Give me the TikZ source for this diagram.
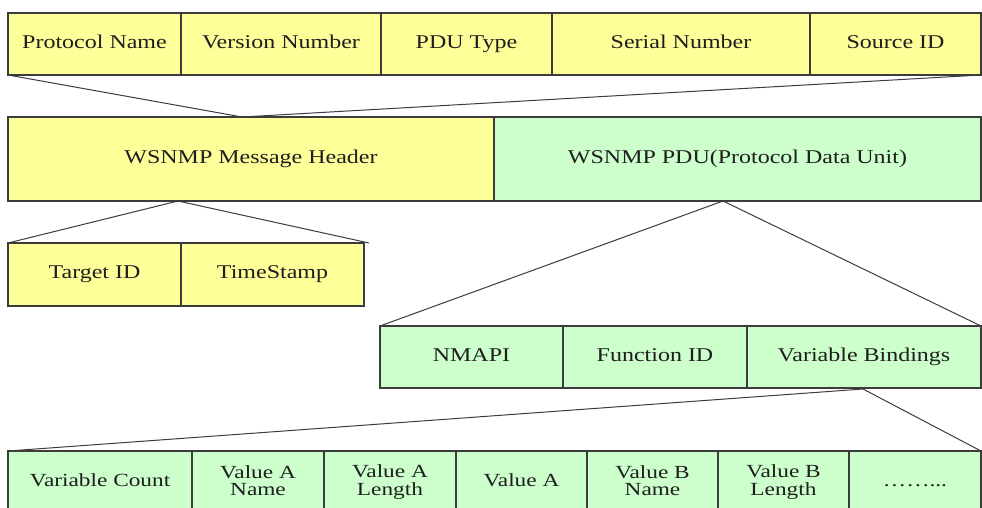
\documentclass[tikz,border=0pt]{standalone}
\usepackage{fontspec}
\usepackage{graphicx}
\setmainfont{Liberation Serif}
\newcommand\wideT[1]{\scalebox{1.23}[1]{#1}}
\newcommand\twoL[2]{\scalebox{1.26}[1]{\begin{tabular}{@{}c@{}}\rule{0pt}{14.9pt}#1\\#2\end{tabular}}}
\definecolor{cellyellow}{HTML}{FFFF99}
\definecolor{cellgreen}{HTML}{CCFFCC}
\definecolor{edgegray}{HTML}{3C3C3C}
\definecolor{textdark}{HTML}{1E1E1E}
\tikzset{
  cellbase/.style={rectangle, draw=edgegray, line width=1.2pt, inner sep=0pt, outer sep=0pt,
    anchor=north west, text=textdark},
  oneline/.style={font=\fontsize{19.5}{22}\selectfont, text height=0.85em, text depth=0pt},
  twoline/.style={font=\fontsize{18.5}{17}\selectfont},
  ycell/.style={cellbase, fill=cellyellow},
  gcell/.style={cellbase, fill=cellgreen},
  conn/.style={draw=edgegray, line width=1pt}
}
\begin{document}
\begin{tikzpicture}[x=1pt, y=-1pt]
\clip (0,0) rectangle (982,508);
\fill[white] (0,0) rectangle (982,508);
% top row
\node[ycell, oneline, minimum width=173, minimum height=62] (pn)  at (8,13)   {\wideT{Protocol Name}};
\node[ycell, oneline, minimum width=200, minimum height=62] (vn)  at (181,13) {\wideT{Version Number}};
\node[ycell, oneline, minimum width=171, minimum height=62] (pt)  at (381,13) {\wideT{PDU Type}};
\node[ycell, oneline, minimum width=258, minimum height=62] (sn)  at (552,13) {\wideT{Serial Number}};
\node[ycell, oneline, minimum width=171, minimum height=62] (sid) at (810,13) {\wideT{Source ID}};
% middle row
\node[ycell, oneline, minimum width=486, minimum height=84] (hdr) at (8,117)   {\wideT{WSNMP Message Header}};
\node[gcell, oneline, minimum width=487, minimum height=84] (pdu) at (494,117) {\wideT{WSNMP PDU(Protocol Data Unit)}};
% header detail
\node[ycell, oneline, minimum width=173, minimum height=63] (tid) at (8,243)   {\wideT{Target ID}};
\node[ycell, oneline, minimum width=183, minimum height=63] (ts)  at (181,243) {\wideT{TimeStamp}};
% PDU detail
\node[gcell, oneline, minimum width=183, minimum height=62] (nm)  at (380,326) {\wideT{NMAPI}};
\node[gcell, oneline, minimum width=184, minimum height=62] (fid) at (563,326) {\wideT{Function ID}};
\node[gcell, oneline, minimum width=234, minimum height=62] (vb)  at (747,326) {\wideT{Variable Bindings}};
% variable bindings detail
\node[gcell, oneline, font=\fontsize{18.5}{17}\selectfont, minimum width=184, minimum height=62] (vc) at (8,451) {\scalebox{1.26}[1]{Variable Count}};
\node[gcell, twoline, minimum width=132, minimum height=62] (van)  at (192,451) {\twoL{Value A}{Name}};
\node[gcell, twoline, minimum width=132, minimum height=62] (val)  at (324,451) {\twoL{Value A}{Length}};
\node[gcell, oneline, font=\fontsize{18.5}{17}\selectfont, minimum width=131, minimum height=62] (va) at (456,451) {\scalebox{1.26}[1]{Value A}};
\node[gcell, twoline, minimum width=131, minimum height=62] (vbn)  at (587,451) {\twoL{Value B}{Name}};
\node[gcell, twoline, minimum width=131, minimum height=62] (vbl)  at (718,451) {\twoL{Value B}{Length}};
\node[gcell, oneline, font=\fontsize{18.5}{17}\selectfont, minimum width=132, minimum height=62] (dots) at (849,451) {\scalebox{1.26}[1]{\dots\dots...}};
% apex points
\coordinate (a1) at (242,117);
\coordinate (a2) at (178,201);
\coordinate (c2) at (369,243);
\coordinate (a3) at (723,201);
\coordinate (a4) at (863,389);
% connectors
\draw[conn] (pn.south west) -- (a1) -- (sid.south east);
\draw[conn] (tid.north west) -- (a2) -- (c2);
\draw[conn] (nm.north west) -- (a3) -- (vb.north east);
\draw[conn] (vc.north west) -- (a4) -- (dots.north east);
\end{tikzpicture}
\end{document}
